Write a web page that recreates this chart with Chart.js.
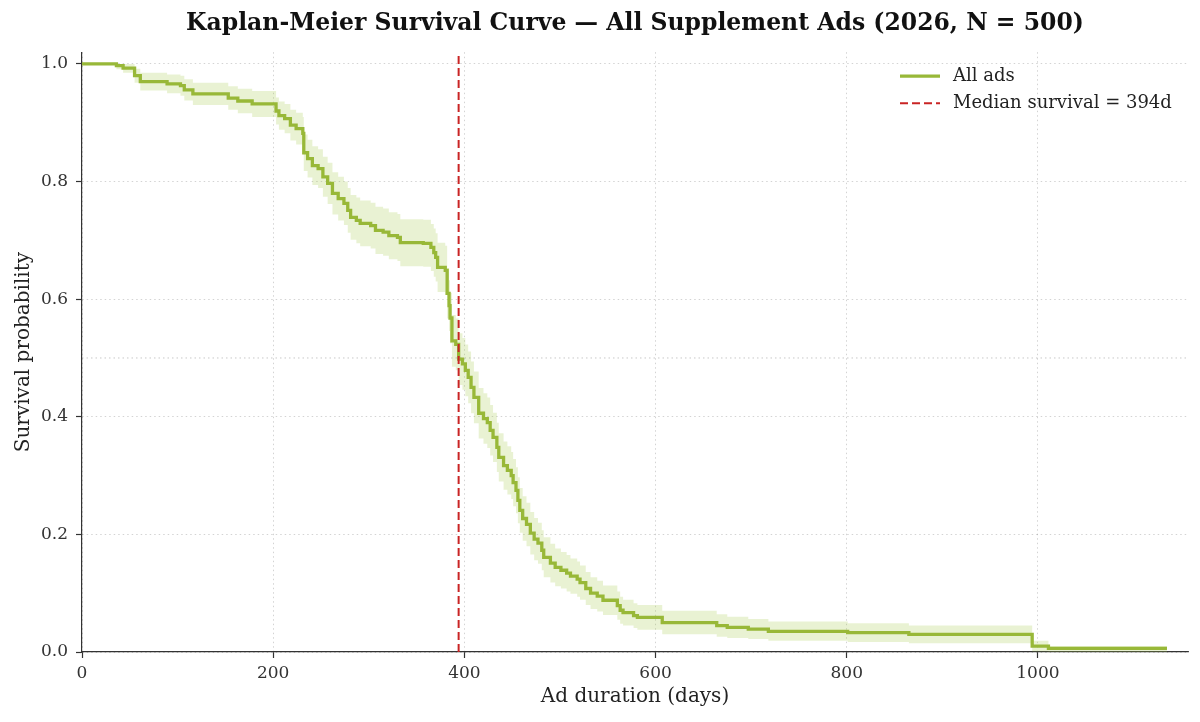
<!DOCTYPE html>
<html>
<head>
<meta charset="utf-8">
<title>Kaplan-Meier Survival Curve</title>
<script src="https://cdn.jsdelivr.net/npm/chart.js@4.4.1/dist/chart.umd.min.js"></script>
<style>
  html, body { margin: 0; padding: 0; background: #fff; }
  #wrap { width: 1200px; height: 722px; position: relative; }
</style>
</head>
<body>
<div id="wrap"><canvas id="kmChart"></canvas></div>
<script>
// Kaplan-Meier curve, all supplement ads

// step times (days) and survival after each step
const kmDays = [
  0, 36, 43, 55, 61, 89, 103, 107, 116, 153,
  163, 178, 203, 206, 212, 218, 224, 231, 232, 236,
  241, 247, 252, 257, 262, 268, 274, 278, 281, 287,
  291, 302, 307, 315, 321, 330, 333, 357, 365, 368,
  370, 372, 380, 382, 384, 385, 387, 391, 394, 398,
  401, 404, 407, 410, 415, 420, 424, 427, 430, 434,
  436, 441, 445, 449, 451, 454, 456, 458, 461, 465,
  469, 473, 477, 481, 483, 490, 495, 501, 507, 511,
  518, 521, 527, 532, 539, 545, 560, 563, 566, 577,
  581, 607, 664, 675, 697, 718, 801, 865, 994, 1011,
  1135
];
const kmSurv = [
  1.0, .997, .993, .980, .970, .966, .963, .956, .949, .942,
  .937, .932, .920, .912, .907, .896, .890, .882, .849, .839,
  .827, .822, .808, .797, .780, .771, .763, .751, .739, .734,
  .729, .725, .717, .714, .708, .705, .696, .695, .688, .679,
  .671, .654, .649, .610, .589, .568, .529, .523, .498, .490,
  .479, .467, .450, .433, .406, .397, .390, .377, .365, .348,
  .331, .317, .309, .300, .288, .275, .258, .241, .227, .217,
  .202, .192, .185, .173, .161, .151, .144, .139, .134, .129,
  .124, .118, .108, .100, .095, .088, .079, .071, .067, .062,
  .059, .050, .045, .042, .039, .035, .033, .030, .010, .006,
  .006
];
// 95% confidence band
const ciUpper = [
  1.0, 1.0, 1.0, .992, .985, .982, .980, .974, .968, .962,
  .958, .954, .943, .936, .932, .922, .917, .910, .880, .871,
  .860, .855, .842, .832, .816, .808, .800, .789, .777, .773,
  .768, .764, .757, .754, .748, .745, .736, .735, .728, .720,
  .712, .696, .691, .653, .632, .611, .573, .567, .542, .534,
  .523, .511, .494, .477, .449, .440, .433, .420, .407, .390,
  .372, .358, .350, .340, .328, .314, .297, .279, .265, .254,
  .238, .228, .220, .207, .195, .184, .176, .170, .165, .159,
  .154, .147, .136, .127, .121, .113, .103, .094, .089, .083,
  .080, .070, .064, .060, .056, .052, .049, .045, .019, .010,
  .010
];
const ciLower = [
  1.0, .991, .985, .968, .955, .950, .946, .938, .930, .922,
  .916, .910, .897, .888, .882, .870, .863, .854, .818, .807,
  .794, .789, .774, .762, .744, .734, .726, .713, .701, .695,
  .690, .686, .677, .674, .668, .665, .656, .655, .648, .638,
  .630, .612, .607, .567, .546, .525, .485, .479, .454, .446,
  .435, .423, .406, .389, .363, .354, .347, .334, .323, .306,
  .290, .276, .268, .260, .248, .236, .219, .203, .189, .180,
  .166, .156, .150, .139, .127, .118, .112, .108, .103, .099,
  .094, .089, .080, .073, .069, .063, .055, .048, .045, .041,
  .038, .030, .026, .024, .022, .019, .017, .015, .001, .000,
  .000
];

const medianDay = 394;
const xMax = 1157;
const yMax = 1.02;

const GREEN = '#98b838';
const RED = '#c92424';
const FONT = "'DejaVu Serif', serif";

Chart.defaults.font.family = FONT;
Chart.defaults.color = '#333';

function toPoints(ys) {
  return kmDays.map((d, i) => ({ x: d, y: ys[i] }));
}

// Legend drawn inside the plot, top right
const legendInside = {
  id: 'legendInside',
  afterDatasetsDraw(chart) {
    const { ctx, chartArea } = chart;
    const entries = chart.data.datasets
      .filter(ds => ds.legendRank)
      .sort((a, b) => a.legendRank - b.legendRank);
    ctx.save();
    ctx.font = '18px ' + FONT;
    ctx.textBaseline = 'middle';
    ctx.fillStyle = '#222';
    entries.forEach((ds, i) => {
      const x = chartArea.right - 288;
      const y = chartArea.top + 24 + i * 27;
      ctx.strokeStyle = ds.borderColor;
      ctx.lineWidth = ds.borderWidth;
      ctx.setLineDash(ds.borderDash || []);
      ctx.beginPath();
      ctx.moveTo(x, y);
      ctx.lineTo(x + 40, y);
      ctx.stroke();
      ctx.setLineDash([]);
      ctx.fillText(ds.label, x + 53, y);
    });
    ctx.restore();
  }
};

const gridOpts = {
  color: 'rgba(0,0,0,0.22)',
  lineWidth: 0.8,
  tickColor: '#333',
  tickLength: 6,
  tickWidth: 1.2,
  tickBorderDash: []
};
const borderOpts = { display: true, color: '#333', width: 1.2, dash: [1.5, 3] };

const ctx = document.getElementById('kmChart').getContext('2d');
new Chart(ctx, {
  type: 'line',
  data: {
    datasets: [
      {
        label: 'Median survival = ' + medianDay + 'd',
        data: [{ x: medianDay, y: 0 }, { x: medianDay, y: yMax }],
        borderColor: RED,
        borderWidth: 2,
        borderDash: [8, 4],
        pointRadius: 0,
        legendRank: 2
      },
      {
        label: 'All ads',
        data: toPoints(kmSurv),
        stepped: true,
        borderColor: GREEN,
        borderWidth: 3.3,
        pointRadius: 0,
        fill: false,
        legendRank: 1
      },
      {
        label: 'half',
        data: [{ x: 0, y: 0.5 }, { x: xMax, y: 0.5 }],
        borderColor: 'rgba(0,0,0,0.28)',
        borderWidth: 0.8,
        borderDash: [1.5, 3],
        pointRadius: 0
      },
      {
        label: 'ci upper',
        data: toPoints(ciUpper),
        stepped: true,
        borderWidth: 0,
        borderColor: 'rgba(0,0,0,0)',
        backgroundColor: 'rgba(165, 200, 70, 0.24)',
        pointRadius: 0,
        fill: '+1'
      },
      {
        label: 'ci lower',
        data: toPoints(ciLower),
        stepped: true,
        borderWidth: 0,
        borderColor: 'rgba(0,0,0,0)',
        pointRadius: 0,
        fill: false
      }
    ]
  },
  options: {
    responsive: true,
    maintainAspectRatio: false,
    animation: false,
    layout: {
      padding: { left: 0, right: 12, top: 0, bottom: 0 }
    },
    plugins: {
      legend: { display: false },
      tooltip: { enabled: false },
      title: {
        display: true,
        fullSize: false,
        text: 'Kaplan-Meier Survival Curve \u2014 All Supplement Ads (2026, N = 500)',
        color: '#111',
        font: { family: FONT, size: 23.5, weight: 'bold' },
        padding: { top: 10, bottom: 14 }
      }
    },
    scales: {
      x: {
        type: 'linear',
        min: 0,
        max: xMax,
        afterFit: scale => { scale.height = 70; },
        border: borderOpts,
        grid: gridOpts,
        ticks: {
          stepSize: 200,
          includeBounds: false,
          padding: 5,
          color: '#333',
          font: { size: 17 },
          maxRotation: 0,
          callback: v => v.toFixed(0)
        },
        title: {
          display: true,
          text: 'Ad duration (days)',
          color: '#222',
          font: { size: 20 },
          padding: { top: 0, bottom: 13 }
        }
      },
      y: {
        min: 0,
        max: yMax,
        afterFit: scale => { scale.width = 82; },
        border: borderOpts,
        grid: gridOpts,
        ticks: {
          stepSize: 0.2,
          includeBounds: false,
          padding: 8,
          color: '#333',
          font: { size: 17 },
          callback: v => v.toFixed(1)
        },
        title: {
          display: true,
          text: 'Survival probability',
          color: '#222',
          font: { size: 20 },
          padding: { top: 12, bottom: 0 }
        }
      }
    }
  },
  plugins: [legendInside]
});
</script>
</body>
</html>
